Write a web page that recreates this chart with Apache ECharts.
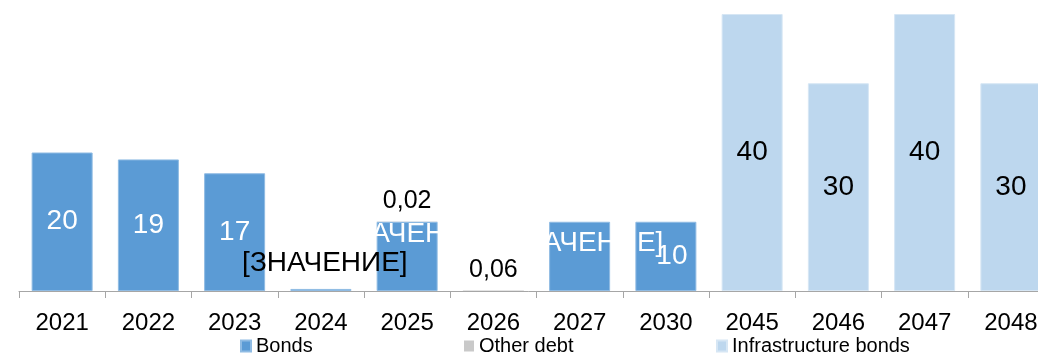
<!DOCTYPE html>
<html>
<head>
<meta charset="utf-8">
<script src="https://cdn.jsdelivr.net/npm/echarts@6/dist/echarts.min.js"></script>
<style>
  html, body { margin: 0; padding: 0; background: #ffffff; }
  #chart { width: 1038px; height: 357px; }
</style>
</head>
<body>
<div id="chart"></div>
<script>
// Debt repayment schedule by year
const years = ['2021', '2022', '2023', '2024', '2025', '2026', '2027', '2030', '2045', '2046', '2047', '2048'];
const bonds = [20, 19, 17, 0.3, 10, null, 10, 10, null, null, null, null];
const otherDebt = [null, null, null, null, 0.02, 0.06, null, null, null, null, null, null];
const infraBonds = [null, null, null, null, null, null, null, null, 40, 30, 40, 30];
// Label texts shown on the bond bars (placeholders where the source had no value text)
const bondLabels = ['20', '19', '17', '[ЗНАЧЕНИЕ]', '[ЗНАЧЕНИЕ]', '', '[ЗНАЧЕНИЕ]', '10', '', '', '', ''];

const FONT = '"Liberation Sans Narrow", "Arial Narrow", "Liberation Sans", Arial, sans-serif';

// Per-bar label tweaks for the bond series
const bondLabelStyle = {
  3: { color: '#000000', offset: [4, -27] },
  4: { offset: [2, -22] },
  6: { offset: [1, -13] },
  7: { offset: [6, 0] }
};

const bondData = bonds.map((v, i) => {
  const item = { value: v };
  if (bondLabelStyle[i]) item.label = Object.assign({}, bondLabelStyle[i]);
  return item;
});

const chart = echarts.init(document.getElementById('chart'), null, { renderer: 'canvas' });

const legendBase = {
  orient: 'horizontal',
  top: 336,
  padding: 0,
  itemWidth: 10,
  itemHeight: 11,
  itemGap: 4,
  icon: 'rect',
  textStyle: { fontFamily: FONT, fontSize: 20, color: '#000000' }
};

chart.setOption({
  animation: false,
  backgroundColor: '#ffffff',
  // the plot runs a little past the right edge of the canvas
  grid: {
    left: 19, width: 1035, top: 14, bottom: 66,
    containLabel: false,
    outerBoundsMode: 'none'
  },
  legend: [
    Object.assign({}, legendBase, { left: 240, data: ['Bonds'] }),
    Object.assign({}, legendBase, { left: 464, data: ['Other debt'] }),
    Object.assign({}, legendBase, { left: 716, data: ['Infrastructure bonds'] })
  ],
  xAxis: {
    type: 'category',
    data: years,
    boundaryGap: true,
    axisLine: { lineStyle: { color: '#a6a6a6', width: 1 } },
    axisTick: { show: true, alignWithLabel: false, length: 7, lineStyle: { color: '#a6a6a6' } },
    axisLabel: { fontFamily: FONT, fontSize: 24, color: '#000000', margin: 20 }
  },
  yAxis: {
    type: 'value',
    min: 0,
    max: 40,
    show: false,
    splitLine: { show: false }
  },
  series: [
    {
      name: 'Bonds',
      type: 'bar',
      stack: 'debt',
      barWidth: 61,
      data: bondData,
      itemStyle: { color: '#5b9bd5', borderColor: '#8fbbe3', borderWidth: 1 },
      label: {
        show: true,
        position: 'inside',
        color: '#ffffff',
        fontFamily: FONT,
        fontSize: 28,
        formatter: p => bondLabels[p.dataIndex]
      }
    },
    {
      name: 'Other debt',
      type: 'bar',
      stack: 'debt',
      barWidth: 61,
      data: otherDebt,
      itemStyle: { color: '#c9c9c9' },
      label: {
        show: true,
        position: 'top',
        distance: 8,
        color: '#000000',
        fontFamily: FONT,
        fontSize: 25,
        formatter: p => String(p.value).replace('.', ',')
      }
    },
    {
      name: 'Infrastructure bonds',
      type: 'bar',
      stack: 'debt',
      barWidth: 61,
      data: infraBonds,
      itemStyle: { color: '#bdd7ee', borderColor: '#d6e6f4', borderWidth: 1 },
      label: {
        show: true,
        position: 'inside',
        color: '#000000',
        fontFamily: FONT,
        fontSize: 28,
        formatter: p => String(p.value)
      }
    }
  ]
});
</script>
</body>
</html>
